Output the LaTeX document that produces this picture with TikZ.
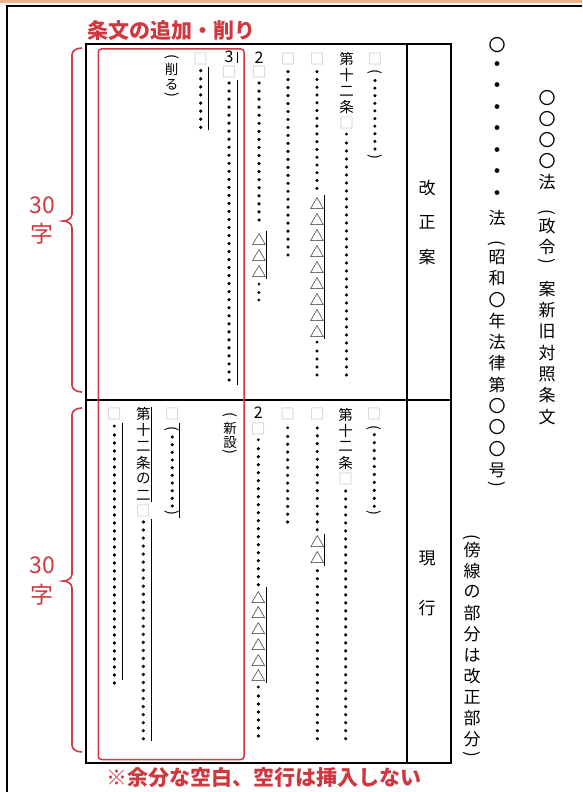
\documentclass[tikz,border=0pt]{standalone}
\usepackage{fontspec}
\setmainfont{Noto Sans CJK JP}
\newfontfamily\dotfont{Noto Sans CJK JP}[BoldFeatures={FakeBold=2.5}]
\newfontfamily\dotfontb{Noto Sans CJK JP}[BoldFeatures={FakeBold=7}]
\definecolor{myred}{RGB}{208,56,64}
\definecolor{myorange}{RGB}{236,178,140}
\definecolor{boxgray}{RGB}{185,185,185}
\newcount\nid
\tikzset{
  autoname/.code={\global\advance\nid by 1\relax\pgfkeysalso{/tikz/name=n\the\nid}},
  every node/.style={inner sep=0pt,outer sep=0pt,autoname},
  tc/.style={font=\fontsize{14.5}{14.5}\selectfont},
  tcs/.style={font=\fontsize{13.5}{13.5}\selectfont},
  dig/.style={font=\fontsize{16}{16}\selectfont},
  sq/.style={tc,text=boxgray},
  tri/.style={font=\fontsize{14.5}{14.5}\selectfont},
  vp/.style={tc,rotate=-90},
  rc/.style={font=\fontsize{17}{17}\selectfont},
  rdot/.style={font=\bfseries\fontsize{17}{17}\selectfont},
  rvp/.style={rc,rotate=-90},
  lab/.style={font=\fontsize{17}{17}\selectfont},
  red30/.style={font=\fontsize{23}{23}\selectfont,text=myred},
  redtitle/.style={font=\bfseries\fontsize{21}{21}\selectfont,text=myred,anchor=west},
  side/.style={line width=0.9pt},
  frame/.style={line width=1.4pt},
  brace/.style={myred,line width=1.6pt}
}
\newcommand\vtext[5]{\foreach \c [count=\i from 0] in {#5} {\node[#1] at ({#2},{#3+\i*#4}) {\c};}}
% dot leader column: x, y of first dot, y of last dot, number of dots
\newcommand\dotrun[4]{%
  \pgfmathsetmacro\dsp{(#3-#2)/(#4-1)}%
  \pgfmathtruncatemacro\dodd{mod(#4,2)}%
  \ifnum\dodd=1
    \node[font=\dotfontb\bfseries\fontsize{\dsp}{\dsp}\selectfont] at ({#1},{#2}) {・};%
    \pgfmathsetmacro\ystart{#2+\dsp}%
    \pgfmathtruncatemacro\npairs{(#4-1)/2}%
  \else
    \pgfmathsetmacro\ystart{#2}%
    \pgfmathtruncatemacro\npairs{#4/2}%
  \fi
  \pgfmathsetmacro\fsz{2*\dsp}%
  \ifnum\npairs>0
    \foreach \k in {1,...,\npairs} {\node[rotate=-90,font=\dotfont\bfseries\fontsize{\fsz}{\fsz}\selectfont] at ({#1-2.3},{\ystart+\dsp/2+2*(\k-1)*\dsp}) {‥};}%
  \fi
}
\newcommand\tris[4]{\foreach \i in {1,...,#4} {\node[tri] at ({#1},{#2+(\i-1)*#3}) {△};}}
\begin{document}
\begin{tikzpicture}[x=1pt,y=-1pt]
\useasboundingbox (0,0) rectangle (582,792);
% page frame
\draw[myorange,line width=3pt] (0,1.5) -- (582,1.5);
\draw[line width=1.5pt] (7,792) -- (7,6) -- (582,6);
% table
\draw[frame] (86,44) rectangle (451,763);
\draw[frame] (407,44) -- (407,763);
\draw[frame] (86,400) -- (451,400);
% red box
\draw[myred,line width=1.5pt,rounded corners=3pt] (98.3,49) rectangle (244,759.5);
% titles
\node[redtitle] (title) at (87,31) {条文の追加・削り};
\node[redtitle] (note) at (106,778) {※余分な空白、空行は挿入しない};
% braces and 30字
\draw[brace] (82,48) to[out=180,in=90] (72,55) -- (72,214) to[out=-90,in=0] (63,221) to[out=0,in=90] (72,228) -- (72,385) to[out=-90,in=180] (82,392);
\draw[brace] (82,408) to[out=180,in=90] (72,415) -- (72,574) to[out=-90,in=0] (63,581) to[out=0,in=90] (72,588) -- (72,745) to[out=-90,in=180] (82,752);
\node[red30] (u30) at (42,205) {30};
\node[red30] (uzi) at (42,234) {字};
\node[red30] (l30) at (42,565) {30};
\node[red30] (lzi) at (42,595) {字};
% labels
\vtext{lab}{427}{188}{34.5}{改,正,案}
\node[lab] (gen) at (427,558) {現};
\node[lab] (gyo) at (427,608) {行};
% right columns
\vtext{rc}{547}{98}{21}{〇,〇,〇,〇,法}
\node[rvp] at (547,212) {(};
\vtext{rc}{547}{226}{21}{政,令}
\node[rvp] at (547,261) {)};
\vtext{rc}{547}{289}{21.3}{案,新,旧,対,照,条,文}
\node[rc] at (497,45) {〇};
\vtext{rdot}{497}{66}{21.5}{・,・,・,・,・,・,・}
\node[rc] at (497,218) {法};
\node[rvp] at (497,243) {(};
\vtext{rc}{497}{257}{21.3}{昭,和,〇,年,法,律,第,〇,〇,〇,号}
\node[rvp] at (497,484) {)};
\node[rvp] at (472,537) {(};
\vtext{rc}{472}{550}{21}{傍,線,の,部,分,は,改,正,部,分}
\node[rvp] at (472,754) {)};
% ===== upper (改正案) =====
% A
\node[sq] at (375,59) {□};
\node[vp] at (375,72) {(};
\dotrun{375}{80.5}{149}{10}
\node[vp] at (375,156.5) {)};
% B
\vtext{tc}{346.5}{59}{16}{第,十,二,条}
\node[sq] at (346.5,123) {□};
\dotrun{346.5}{135}{375}{31}
% C
\node[sq] at (317,59) {□};
\dotrun{317}{71.7}{188.3}{16}
\tris{317}{203.3}{16}{9}
\dotrun{317}{343}{375}{5}
\draw[side] (324.3,195) -- (324.3,339);
% D
\node[sq] at (288,59) {□};
\dotrun{288}{71.7}{255}{24}
% E
\node[dig] at (259,58) {2};
\node[sq] at (259,72) {□};
\dotrun{259}{83}{220}{18}
\tris{259}{240}{16}{3}
\dotrun{259}{285}{300}{3}
\draw[side] (266.7,231) -- (266.7,279);
% F
\node[dig] at (229,57) {3};
\node[sq] at (229,72) {□};
\dotrun{229}{83}{380}{38}
\draw[side] (237,52) -- (237,63);
\draw[side] (237,80) -- (237,385);
% G
\node[sq] at (200.7,59) {□};
\dotrun{200.7}{70.7}{127.3}{8}
\draw[side] (208.3,67) -- (208.3,130);
% H
\node[vp] at (171.7,57) {(};
\vtext{tcs}{171.7}{69.5}{15}{削,る}
\node[vp] at (171.7,95) {)};
% ===== lower (現行) =====
% A
\node[sq] at (374.3,414) {□};
\node[vp] at (374.3,428) {(};
\dotrun{374.3}{434.7}{506.3}{10}
\node[vp] at (374.3,513) {)};
% B
\vtext{tc}{345.7}{414.7}{16}{第,十,二,条}
\node[sq] at (345.7,479) {□};
\dotrun{345.7}{491}{738.7}{32}
% C
\node[sq] at (317.3,414) {□};
\dotrun{317.3}{428}{529.7}{14}
\tris{317.3}{542}{16}{2}
\draw[side] (324.3,534) -- (324.3,566.3);
\dotrun{317.3}{570.7}{738.7}{22}
% D
\node[sq] at (287.7,414) {□};
\dotrun{287.7}{428.7}{522}{13}
% E
\node[dig] at (258.3,413) {2};
\node[sq] at (258.3,428.7) {□};
\dotrun{258.3}{440.7}{584.7}{19}
\tris{258.3}{597.3}{15.7}{6}
\draw[side] (266,587) -- (266,683);
\dotrun{258.3}{688}{736}{7}
% F
\node[vp] at (230,415) {(};
\vtext{tcs}{230}{428.5}{14}{新,設}
\node[vp] at (230,452) {)};
% G
\node[sq] at (172.3,414) {□};
\node[vp] at (172.3,428.7) {(};
\dotrun{172.3}{437}{506}{10}
\node[vp] at (172.3,513) {)};
\draw[side] (179,423) -- (179,518);
% H
\vtext{tc}{143.3}{414}{16.2}{第,十,二,条,の,二}
\node[sq] at (143.3,511.3) {□};
\dotrun{143.3}{522}{738.7}{28}
\draw[side] (151.7,407) -- (151.7,502);
\draw[side] (151.7,518.7) -- (151.7,741.3);
% I
\node[sq] at (114.3,414) {□};
\dotrun{114.3}{427}{683}{33}
\draw[side] (122.3,423) -- (122.3,679.7);
\end{tikzpicture}
\end{document}
